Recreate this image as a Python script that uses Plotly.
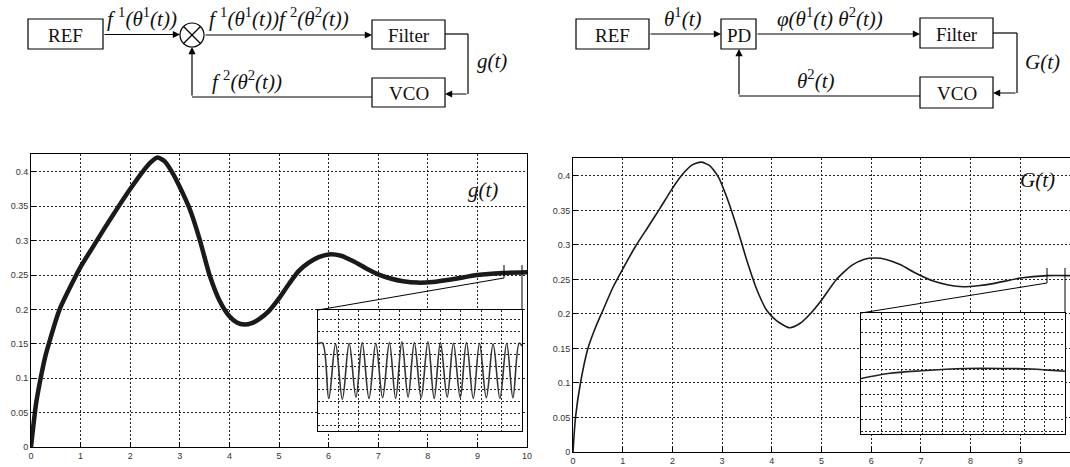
import plotly.graph_objects as go

W, H = 1070, 467

# ---------------- data ----------------
g_t = [0, 0.1, 0.2, 0.3, 0.4, 0.5, 0.6, 0.8, 1.0, 1.25, 1.5, 1.75, 2.0, 2.25, 2.4, 2.55,
       2.7, 2.85, 3.0, 3.2, 3.4, 3.6, 3.8, 4.0, 4.15, 4.3, 4.45, 4.6, 4.8, 5.0, 5.2,
       5.4, 5.6, 5.8, 6.0, 6.25, 6.5, 6.75, 7.0, 7.25, 7.5, 7.8, 8.1, 8.5, 9.0, 9.5, 10]
g_v = [0, 0.062, 0.102, 0.135, 0.160, 0.184, 0.204, 0.234, 0.262, 0.291, 0.320, 0.348, 0.375, 0.400, 0.413, 0.421,
       0.415, 0.399, 0.378, 0.346, 0.302, 0.250, 0.213, 0.190, 0.181, 0.178, 0.180, 0.186, 0.198, 0.216, 0.237,
       0.256, 0.268, 0.276, 0.280, 0.278, 0.270, 0.260, 0.251, 0.245, 0.241, 0.239, 0.240, 0.244, 0.250, 0.253, 0.254]

G_t = [0, 0.05, 0.15, 0.3, 0.45, 0.6, 0.8, 1.0, 1.25, 1.5, 1.75, 2.0, 2.2, 2.4, 2.58,
       2.75, 2.93, 3.1, 3.3, 3.5, 3.7, 3.9, 4.1, 4.36, 4.57, 4.77, 5.0, 5.3, 5.6, 5.85,
       6.08, 6.3, 6.58, 6.9, 7.25, 7.55, 7.85, 8.15, 8.45, 9.0, 9.54, 10]
G_v = [0, 0.05, 0.10, 0.15, 0.18, 0.205, 0.238, 0.265, 0.297, 0.325, 0.353, 0.382, 0.402, 0.416, 0.420,
       0.415, 0.398, 0.368, 0.325, 0.277, 0.235, 0.205, 0.190, 0.180, 0.1865, 0.200, 0.220, 0.250, 0.270, 0.279,
       0.281, 0.279, 0.2716, 0.259, 0.2476, 0.242, 0.2395, 0.241, 0.244, 0.252, 0.2555, 0.2555]

# zoomed window shown in both insets
zoom_t = [9.54, 9.90]
zoom_g = [0.2455, 0.263]
zoom_G = [0.2456, 0.2674]

# left inset: fast ripple of g(t) (peaks / troughs)
gi_t = [9.540, 9.548, 9.559, 9.571, 9.583, 9.595, 9.607, 9.618, 9.630, 9.642, 9.654,
        9.666, 9.677, 9.688, 9.699, 9.710, 9.722, 9.734, 9.745, 9.756, 9.768, 9.779,
        9.791, 9.802, 9.814, 9.825, 9.837, 9.849, 9.861, 9.873, 9.884, 9.895, 9.900]
gi_v = [0.2581, 0.2582, 0.2502, 0.2581, 0.2501, 0.2582, 0.2504, 0.2583, 0.2502, 0.2582, 0.2503,
        0.2583, 0.2502, 0.2584, 0.2504, 0.2583, 0.2503, 0.2584, 0.2502, 0.2583, 0.2504, 0.2582,
        0.2503, 0.2583, 0.2502, 0.2582, 0.2503, 0.2581, 0.2502, 0.2582, 0.2503, 0.2582, 0.2578]

# right inset: smooth G(t)
Gi_t = [9.54, 9.588, 9.647, 9.724, 9.795, 9.842, 9.871, 9.90]
Gi_v = [0.2556, 0.2565, 0.2570, 0.2574, 0.2574, 0.2573, 0.2571, 0.2569]

x_ticks = list(range(0, 11))
y_ticks = [0, 0.05, 0.1, 0.15, 0.2, 0.25, 0.3, 0.35, 0.4]
y_labels = ["0", "0.05", "0.1", "0.15", "0.2", "0.25", "0.3", "0.35", "0.4"]

# ---------------- helpers ----------------
def PX(x):
    return x / W

def PY(y):
    return 1 - y / H

fig = go.Figure()

fig.add_trace(go.Scatter(x=g_t, y=g_v, mode="lines", line=dict(color="#1a1a1a", width=4.5, shape="spline", smoothing=0.6),
                         xaxis="x", yaxis="y", hoverinfo="skip"))
fig.add_trace(go.Scatter(x=gi_t, y=gi_v, mode="lines", line=dict(color="#333", width=1.6, shape="spline", smoothing=1.0),
                         xaxis="x2", yaxis="y2", hoverinfo="skip"))
fig.add_trace(go.Scatter(x=G_t, y=G_v, mode="lines", line=dict(color="#1a1a1a", width=1.6, shape="spline", smoothing=0.6),
                         xaxis="x3", yaxis="y3", hoverinfo="skip"))
fig.add_trace(go.Scatter(x=Gi_t, y=Gi_v, mode="lines", line=dict(color="#222", width=1.6, shape="spline"),
                         xaxis="x4", yaxis="y4", hoverinfo="skip"))

tickfont = dict(family="Liberation Sans, Arial", size=9, color="#333")
grid = dict(showgrid=True, gridcolor="#222", gridwidth=1, griddash="2px,2px", zeroline=False,
            showline=True, linecolor="black", linewidth=1, mirror=True, automargin=False)

def main_x(dom, anchor):
    return dict(domain=dom, range=[0, 10], tickvals=x_ticks, ticks="inside", ticklen=5, tickcolor="black",
                tickfont=tickfont, anchor=anchor, **grid)

def main_y(dom, anchor):
    return dict(domain=dom, range=[0, 0.426], tickvals=y_ticks, ticktext=y_labels, ticks="inside", ticklen=5,
                tickcolor="black", tickfont=tickfont, anchor=anchor, **grid)

def inset_x(dom, anchor):
    return dict(domain=dom, range=zoom_t, tick0=9.54, dtick=0.036, showticklabels=False, ticks="",
                anchor=anchor, **grid)

def inset_y(dom, anchor, rng, frac_step, frac_off):
    span = rng[1] - rng[0]
    return dict(domain=dom, range=rng, tick0=rng[0] + span * frac_off, dtick=span * frac_step,
                showticklabels=False, ticks="", anchor=anchor, **grid)

fig.update_layout(
    width=W, height=H, autosize=False,
    margin=dict(l=0, r=0, t=0, b=0, pad=0),
    paper_bgcolor="white", plot_bgcolor="white",
    showlegend=False,
    xaxis=main_x([PX(31), PX(527)], "y"),
    yaxis=main_y([PY(447), PY(154)], "x"),
    xaxis2=inset_x([PX(318), PX(522)], "y2"),
    yaxis2=inset_y([PY(431), PY(310)], "x2", zoom_g, 11.7 / 121, 6 / 121),
    xaxis3=main_x([PX(573), 1.0], "y3"),
    yaxis3=main_y([PY(452), PY(158)], "x3"),
    xaxis4=inset_x([PX(861), PX(1065)], "y4"),
    yaxis4=inset_y([PY(434), PY(313)], "x4", zoom_G, 12.4 / 121, 15 / 121),
)

shapes = []
annots = []

def line(x0, y0, x1, y1, w=1.2):
    shapes.append(dict(type="line", xref="paper", yref="paper", x0=PX(x0), y0=PY(y0), x1=PX(x1), y1=PY(y1),
                       line=dict(color="black", width=w)))

def rect(x0, y0, x1, y1, label):
    shapes.append(dict(type="rect", xref="paper", yref="paper", x0=PX(x0), y0=PY(y0), x1=PX(x1), y1=PY(y1),
                       line=dict(color="black", width=1.2), fillcolor="white"))
    annots.append(dict(xref="paper", yref="paper", x=PX((x0 + x1) / 2), y=PY((y0 + y1) / 2 + 1), text=label,
                       showarrow=False, font=dict(family="Liberation Serif, Times New Roman", size=19, color="#111"),
                       xanchor="center", yanchor="middle"))

def arrow(x0, y0, x1, y1):
    annots.append(dict(xref="paper", yref="paper", x=PX(x1), y=PY(y1), ax=x0 - x1, ay=y0 - y1,
                       axref="pixel", ayref="pixel", text="", showarrow=True, arrowhead=2, arrowsize=1.2,
                       arrowwidth=1.2, arrowcolor="black", standoff=0, startstandoff=0))

def label(x, y, text, size=21):
    annots.append(dict(xref="paper", yref="paper", x=PX(x), y=PY(y), text=text, showarrow=False,
                       font=dict(family="Liberation Serif, Times New Roman", size=size, color="#111"),
                       xanchor="center", yanchor="middle"))

# ---- left block diagram ----
rect(28, 19, 103, 49, "REF")
shapes.append(dict(type="circle", xref="paper", yref="paper", x0=PX(180), y0=PY(23), x1=PX(204), y1=PY(47),
                   line=dict(color="black", width=1.2)))
line(183.5, 26.5, 200.5, 43.5)
line(183.5, 43.5, 200.5, 26.5)
arrow(103, 34.5, 180, 34.5)
arrow(204, 35, 372, 35)
rect(372, 20, 445, 49, "Filter")
line(445, 34, 468, 34)
line(468, 34, 468, 94)
arrow(468, 94, 445, 94)
rect(372, 78, 445, 107, "VCO")
line(372, 97, 192, 97)
arrow(192, 97, 192, 47)
label(142, 18, "<i>f</i> <sup>1</sup><i>(θ</i><sup>1</sup><i>(t))</i>")
label(279, 18, "<i>f</i> <sup>1</sup><i>(θ</i><sup>1</sup><i>(t))f</i> <sup>2</sup><i>(θ</i><sup>2</sup><i>(t))</i>")
label(247, 81, "<i>f</i> <sup>2</sup><i>(θ</i><sup>2</sup><i>(t))</i>")
label(492, 61, "<i>g(t)</i>")

# ---- right block diagram ----
rect(576, 19, 649, 49, "REF")
arrow(649, 34, 721, 34)
rect(721, 19, 756, 49, "PD")
arrow(756, 34, 920, 34)
rect(920, 18, 993, 48, "Filter")
line(993, 33, 1017, 33)
line(1017, 33, 1017, 93)
arrow(1017, 93, 993, 93)
rect(920, 77, 993, 108, "VCO")
line(920, 96, 739, 96)
arrow(739, 96, 739, 49)
label(683, 17, "<i>θ</i><sup>1</sup><i>(t)</i>")
label(830, 17, "<i>φ(θ</i><sup>1</sup><i>(t) θ</i><sup>2</sup><i>(t))</i>")
label(816, 80, "<i>θ</i><sup>2</sup><i>(t)</i>")
label(1042, 62, "<i>G(t)</i>")

# ---- plot labels ----
label(483, 190, "<i>g(t)</i>", size=21)
label(1037, 180, "<i>G(t)</i>", size=21)

# ---- zoom connectors ----
line(504, 265, 504, 278, 1)
line(504, 278, 318, 310, 1)
line(522, 265, 522, 310, 1)
line(1047, 268, 1047, 283, 1)
line(1047, 283, 861, 313, 1)
line(1065, 268, 1065, 313, 1)

fig.update_layout(shapes=shapes, annotations=annots)
fig.write_html("out.html", config={"displayModeBar": False},
               post_script="document.body.style.margin='0px';document.body.style.overflow='hidden';")
